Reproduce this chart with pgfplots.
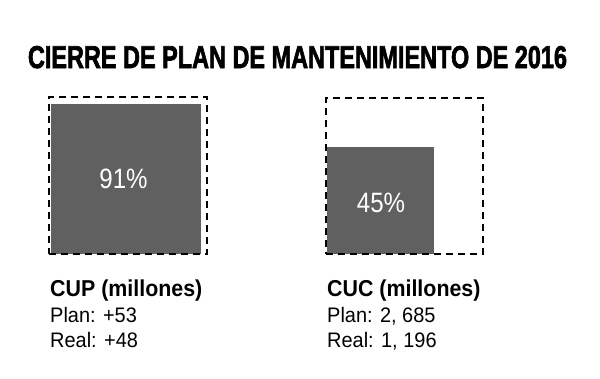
\documentclass[border=0pt]{standalone}
\usepackage{pgfplots}
\pgfplotsset{compat=1.18}
\usepackage{fontspec}
\setmainfont{Liberation Sans}
\newfontfamily\titlefont[BoldFeatures={FakeBold=2.5}]{Liberation Sans}
\definecolor{boxfill}{RGB}{96,96,96}
\begin{document}
\begin{tikzpicture}
\begin{axis}[
  width=600pt, height=378pt, scale only axis,
  xmin=0, xmax=600, ymin=0, ymax=378, y dir=reverse,
  hide axis, clip=false]
% invisible frame for page size
\addplot[draw=none, forget plot] coordinates {(0,0) (600,378)};
% filled squares (area proportional to Real/Plan)
\addplot[fill=boxfill, draw=none] coordinates {(51,254) (201,254) (201,104) (51,104)} -- cycle;
\addplot[fill=boxfill, draw=none] coordinates {(327,254) (434,254) (434,147) (327,147)} -- cycle;
% dashed plan boxes
\addplot[black, line width=2.2pt, dash pattern=on 7pt off 5pt] coordinates {(49,254) (207,254) (207,97) (49,97)} -- cycle;
\addplot[black, line width=2.2pt, dash pattern=on 7pt off 5pt] coordinates {(326,254) (483,254) (483,98) (326,98)} -- cycle;
% title
\node[anchor=base, inner sep=0pt] at (axis cs:297.5,68) {\resizebox{539pt}{22pt}{\titlefont\bfseries CIERRE DE PLAN DE MANTENIMIENTO DE 2016}};
% percentages
\node[white, inner sep=0pt] at (axis cs:123.5,179) {\scalebox{0.86}[1]{\fontsize{28}{32}\selectfont 91\%}};
\node[white, inner sep=0pt] at (axis cs:381,203) {\scalebox{0.86}[1]{\fontsize{28}{32}\selectfont 45\%}};
% labels
\node[anchor=base west, inner sep=0pt] at (axis cs:50,296) {\scalebox{0.93}[1]{\fontsize{23}{26}\selectfont\bfseries CUP (millones)}};
\node[anchor=base west, inner sep=0pt] at (axis cs:50,322) {\scalebox{0.95}[1]{\fontsize{21}{24}\selectfont Plan: +53}};
\node[anchor=base west, inner sep=0pt] at (axis cs:50,347) {\scalebox{0.95}[1]{\fontsize{21}{24}\selectfont Real: +48}};
\node[anchor=base west, inner sep=0pt] at (axis cs:327,296) {\scalebox{0.93}[1]{\fontsize{23}{26}\selectfont\bfseries CUC (millones)}};
\node[anchor=base west, inner sep=0pt] at (axis cs:327,322) {\scalebox{0.95}[1]{\fontsize{21}{24}\selectfont Plan: 2, 685}};
\node[anchor=base west, inner sep=0pt] at (axis cs:327,347) {\scalebox{0.95}[1]{\fontsize{21}{24}\selectfont Real: 1, 196}};
\end{axis}
\end{tikzpicture}
\end{document}
